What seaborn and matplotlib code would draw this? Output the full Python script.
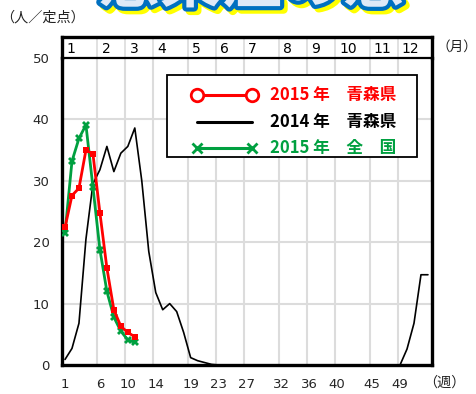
import numpy as np
import pandas as pd
import matplotlib
matplotlib.use("Agg")
import matplotlib.pyplot as plt
import matplotlib.patheffects as pe
from matplotlib.lines import Line2D
from matplotlib.patches import Rectangle
import seaborn as sns

sns.set_theme(style="white")
plt.rcParams["font.family"] = ["Noto Sans CJK JP", "DejaVu Sans"]

# ---- data ----
weeks_2015 = list(range(1, 12))
aomori_2015 = [22.4, 27.6, 28.8, 35.0, 34.4, 24.8, 15.8, 9.0, 6.3, 5.3, 4.6]
national_2015 = [21.5, 33.2, 36.9, 39.1, 29.0, 18.8, 12.0, 7.8, 5.5, 4.1, 3.7]

weeks_2014 = list(range(1, 54))
aomori_2014 = ([0.9, 2.7, 6.8, 20.5, 29.5, 31.8, 35.6, 31.5, 34.5, 35.6, 38.6,
                30.0, 18.5, 11.8, 9.0, 10.0, 8.7, 5.3, 1.2, 0.7, 0.4, 0.1]
               + [0.0] * 27
               + [2.6, 6.8, 14.7, 14.7])

week_ticks = [1, 6, 10, 14, 19, 23, 27, 32, 36, 40, 45, 49]
month_labels = [str(m) for m in range(1, 13)]
y_ticks = [0, 10, 20, 30, 40, 50]

legend_labels = ["2015 年　青森県", "2014 年　青森県", "2015 年　全　国"]

RED = "#ff0000"
GREEN = "#00a040"
GRID = "#dcdcdc"

df15 = pd.DataFrame({"week": weeks_2015, "aomori": aomori_2015, "national": national_2015})
df14 = pd.DataFrame({"week": weeks_2014, "aomori": aomori_2014})

fig = plt.figure(figsize=(4.76, 3.94), dpi=100)
fig.patch.set_facecolor("white")

x0, x1 = 0.57, 53.58
ax = fig.add_axes([62 / 476, 29 / 394, 370 / 476, 307 / 394])
strip = fig.add_axes([62 / 476, 336 / 394, 370 / 476, 21 / 394])

# grid: month boundaries sit just left of each month's first week
bounds = np.array(week_ticks[1:]) - 0.35
for b in bounds:
    ax.axvline(b, color=GRID, lw=1.5, zorder=0)
for yv in y_ticks[1:-1]:
    ax.axhline(yv, color=GRID, lw=1.5, zorder=0)

sns.lineplot(data=df14, x="week", y="aomori", ax=ax, color="black", lw=1.2,
             zorder=3, legend=False)
sns.lineplot(data=df15, x="week", y="national", ax=ax, color=GREEN, lw=2.0,
             marker="X", markersize=5.5, markeredgewidth=0, zorder=4, legend=False)
sns.lineplot(data=df15, x="week", y="aomori", ax=ax, color=RED, lw=2.0,
             marker="s", markersize=5, markeredgewidth=0, zorder=5, legend=False)

ax.set_xlim(x0, x1)
ax.set_ylim(0, 50)
ax.set_xlabel("")
ax.set_ylabel("")
ax.set_xticks(week_ticks)
ax.set_xticklabels([str(w) for w in week_ticks], fontsize=9.5,
                   family=["DejaVu Sans"])
ax.set_xticks(bounds, minor=True)
ax.tick_params(axis="x", which="major", length=0, pad=9)
ax.tick_params(axis="x", which="minor", length=4, width=1.2, color="black",
               direction="out")
ax.set_yticks(y_ticks)
ax.set_yticklabels([str(v) for v in y_ticks], fontsize=9.5, family=["DejaVu Sans"])
ax.tick_params(axis="y", length=0, pad=9)
for side in ["left", "bottom", "right"]:
    ax.spines[side].set_visible(True)
    ax.spines[side].set_linewidth(2.4)
    ax.spines[side].set_color("black")
ax.spines["top"].set_visible(False)

# month strip above the plot
strip.set_xlim(x0, x1)
strip.set_ylim(0, 1)
strip.set_xticks([])
strip.set_yticks([])
for b in bounds:
    strip.axvline(b, color=GRID, lw=1.2)
starts = [x0] + list(bounds)
for s, lab in zip(starts, month_labels):
    strip.text(s + 0.6, 0.45, lab, ha="left", va="center", fontsize=10,
               family=["DejaVu Sans"], color="black")
for side in ["left", "top", "right"]:
    strip.spines[side].set_linewidth(2.4)
    strip.spines[side].set_color("black")
strip.spines["bottom"].set_linewidth(1.6)
strip.spines["bottom"].set_color("black")


# legend box, laid out in pixel units of the plot area
def fx(px):
    return (px - 62) / 370


def fy(py):
    return (365 - py) / 307


ax.add_patch(Rectangle((fx(167), fy(157)), fx(417) - fx(167), fy(75) - fy(157),
                       transform=ax.transAxes, facecolor="white",
                       edgecolor="black", lw=1.3, zorder=6))
rows = [95, 122, 148]
styles = [
    dict(color=RED, lw=2.2, marker="o", markersize=9, markerfacecolor="white",
         markeredgecolor=RED, markeredgewidth=2),
    dict(color="black", lw=2.2),
    dict(color=GREEN, lw=2.2, marker="x", markersize=6.5, markeredgewidth=2,
         markeredgecolor=GREEN),
]
colors = [RED, "black", GREEN]
for ry, st, lab, c in zip(rows, styles, legend_labels, colors):
    ax.add_line(Line2D([fx(197), fx(252)], [fy(ry), fy(ry)],
                       transform=ax.transAxes, zorder=7, **st))
    ax.text(fx(270), fy(ry), lab, transform=ax.transAxes, ha="left",
            va="center", fontsize=12, weight="bold", color=c, zorder=7)

# header and unit labels
fig.text(0.528, 1 - 15 / 394, "感染症の患", ha="center", va="bottom",
         fontsize=44, weight="bold", color="#dfe9f7",
         path_effects=[
             pe.Stroke(linewidth=6, foreground="#ffff00", offset=(2.5, -2.5)),
             pe.Stroke(linewidth=6, foreground="#0070c0"),
             pe.Normal()])
fig.text(0 / 476, 1 - 18 / 394, "（人／定点）", ha="left", va="center",
         fontsize=10.2, color="#222222")
fig.text(436 / 476, 1 - 47 / 394, "（月）", ha="left", va="center",
         fontsize=9.8, color="#222222")
fig.text(423 / 476, 1 - 383 / 394, "（週）", ha="left", va="center",
         fontsize=10.2, color="#222222")

fig.savefig("out.png", dpi=100, facecolor="white")
